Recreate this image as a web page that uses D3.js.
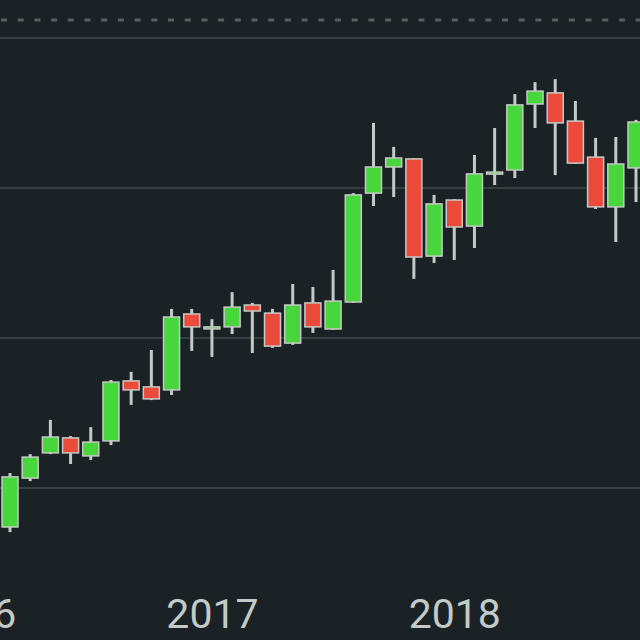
<!DOCTYPE html>
<html>
<head>
<meta charset="utf-8">
<script src="https://cdn.jsdelivr.net/npm/d3@7"></script>
<style>
  html, body { margin: 0; padding: 0; background: #1a2225; }
  svg { display: block; }
</style>
</head>
<body>
<svg id="chart" width="640" height="640"></svg>
<script>
// Months (index counted from Jan 2016)
const monthIndex = [2,3,4,5,6,7,8,9,10,11,12,13,14,15,16,17,18,19,20,21,22,23,24,25,26,27,28,29,30,31,32,33];
const opens  = [870,1033,1117,1167,1107,1157,1357,1337,1327,1580,1537,1537,1610,1583,1483,1617,1530,1620,1983,2070,2097,1773,1960,1873,2053,2060,2280,2317,2223,2103,1937,2067];
const highs  = [1050,1113,1227,1173,1203,1360,1387,1460,1597,1597,1563,1653,1617,1597,1680,1670,1727,1983,2217,2137,2100,1977,1963,2110,2200,2313,2353,2363,2290,2167,2170,2227];
const lows   = [853,1023,1113,1080,1093,1143,1277,1293,1310,1457,1437,1513,1450,1467,1477,1517,1527,1617,1940,1970,1697,1750,1760,1800,2010,2033,2200,2043,2080,1930,1820,1953];
const closes = [1037,1103,1170,1117,1153,1353,1327,1297,1570,1537,1537,1603,1590,1473,1610,1537,1623,1977,2070,2100,1770,1947,1870,2047,2053,2277,2323,2217,2083,1937,2080,2220];
const yearTicks = [0, 12, 24];
const yearLabels = ["2016", "2017", "2018"];
const gridValues = [1000, 1500, 2000, 2500];
const refLine = 2560;

const W = 640, H = 640;
const svg = d3.select("#chart");
svg.append("rect").attr("width", W).attr("height", H).attr("fill", "#1a2225");

const x = d3.scaleLinear().domain([2, 33]).range([10, 636]);
const y = d3.scaleLinear().domain([1000, 2500]).range([488, 38]);

// horizontal grid
svg.append("g").selectAll("line").data(gridValues).join("line")
  .attr("x1", 0).attr("x2", W)
  .attr("y1", d => y(d)).attr("y2", d => y(d))
  .attr("stroke", "#35403f").attr("stroke-width", 2);

// dotted reference line
svg.append("line")
  .attr("x1", 0).attr("x2", W)
  .attr("y1", y(refLine)).attr("y2", y(refLine))
  .attr("stroke", "#55615f").attr("stroke-width", 3)
  .attr("stroke-dasharray", "6 10.7").attr("stroke-dashoffset", -1);

const data = monthIndex.map((m, i) => ({m, o: opens[i], h: highs[i], l: lows[i], c: closes[i]}));
const green = "#47d63c", red = "#ec4a3a", edge = "#c5c9c6";
const bw = 16;

const g = svg.append("g");
const candle = g.selectAll("g").data(data).join("g");
candle.append("line")
  .attr("x1", d => x(d.m)).attr("x2", d => x(d.m))
  .attr("y1", d => y(d.h)).attr("y2", d => y(d.l))
  .attr("stroke", edge).attr("stroke-width", 3);
candle.append("rect")
  .attr("x", d => x(d.m) - bw / 2)
  .attr("width", bw)
  .attr("y", d => y(Math.max(d.o, d.c)))
  .attr("height", d => Math.max(2, Math.abs(y(d.o) - y(d.c))))
  .attr("fill", d => d.c >= d.o ? green : red)
  .attr("stroke", edge).attr("stroke-width", 1.5);

// x axis labels
const axis = d3.axisBottom(x).tickValues(yearTicks).tickFormat((d, i) => yearLabels[i]).tickSize(0);
const ax = svg.append("g").attr("transform", "translate(0,590)").call(axis);
ax.select(".domain").remove();
ax.selectAll("text")
  .attr("dy", 0).attr("y", 38)
  .attr("fill", "#c3cac8")
  .style("font-family", "Roboto, sans-serif")
  .style("font-size", "41px");
</script>
</body>
</html>
